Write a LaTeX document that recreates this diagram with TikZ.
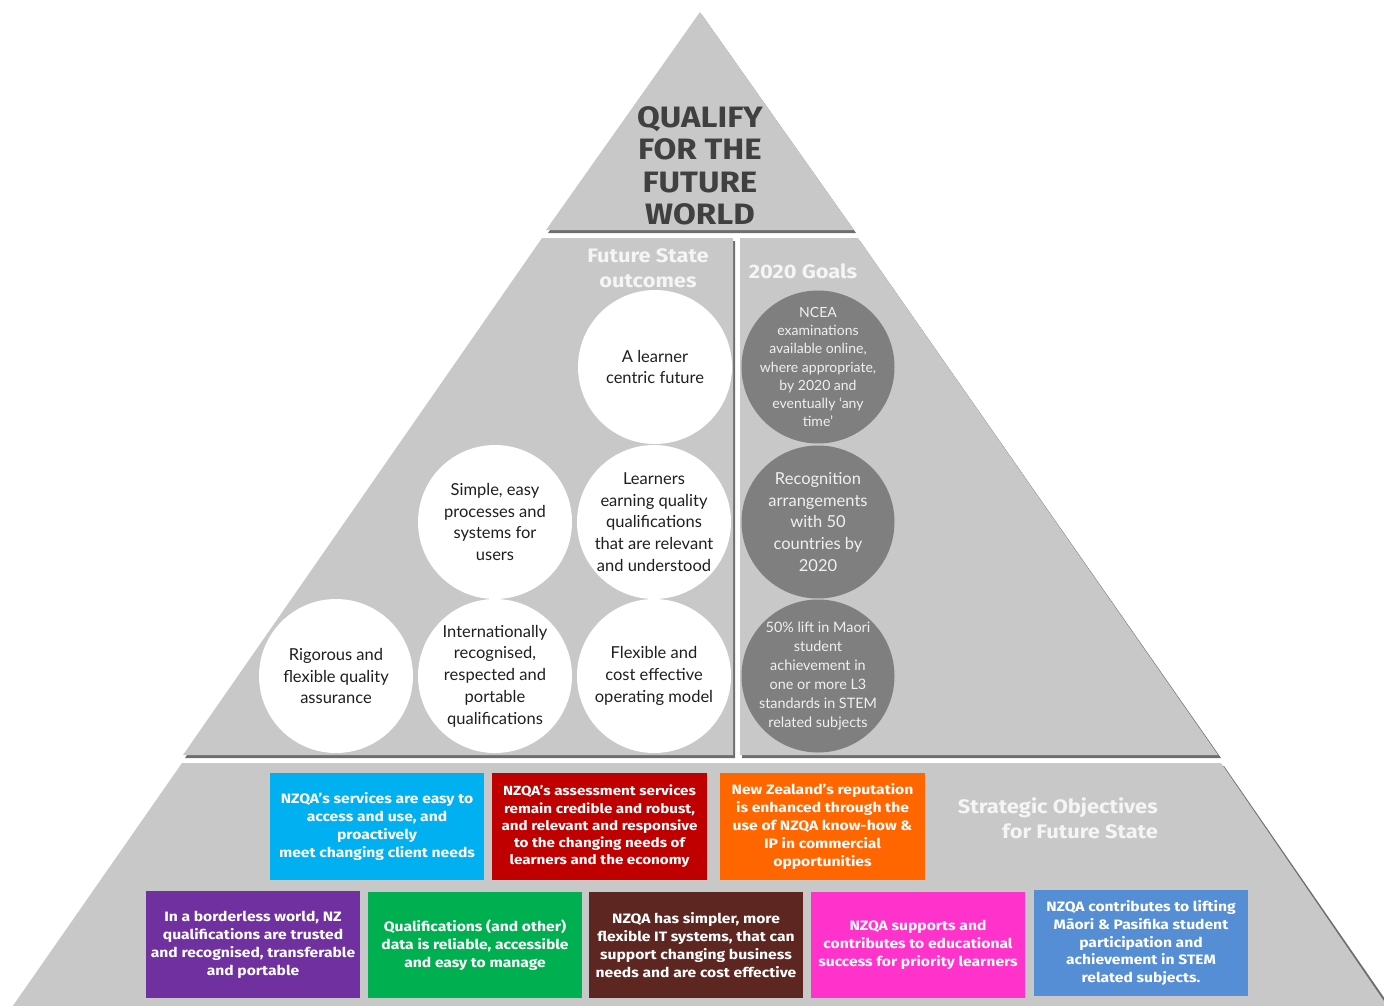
\documentclass[tikz,border=0pt]{standalone}
\usepackage{fontspec}
\setmainfont{Lato}
\newfontfamily\boxfont{Fira Sans}[FakeStretch=1.15]
\newfontfamily\heavywide{Fira Sans}[FakeStretch=1.12]
\definecolor{pyr}{RGB}{200,200,200}
\definecolor{pyrshadow}{RGB}{110,110,110}
\definecolor{dgray}{RGB}{127,127,127}
\definecolor{titlegray}{RGB}{64,64,64}
\definecolor{cyanc}{RGB}{0,176,240}
\definecolor{redc}{RGB}{192,0,0}
\definecolor{orangec}{RGB}{255,102,0}
\definecolor{purplec}{RGB}{112,48,160}
\definecolor{greenc}{RGB}{0,176,80}
\definecolor{brownc}{RGB}{94,38,32}
\definecolor{magentac}{RGB}{255,51,204}
\definecolor{bluec}{RGB}{85,142,213}
\tikzset{
  tier/.style={fill=pyr, draw=none},
  tiershadow/.style={fill=pyrshadow, draw=none},
  wcirc/.style={circle, fill=white, minimum size=154pt, inner sep=0pt},
  dcirc/.style={circle, fill=dgray, minimum size=153pt, inner sep=0pt},
  wtext/.style={align=center, inner sep=0pt, text=black!88, font=\fontsize{16.5}{21.8}\selectfont},
  dtext/.style={align=center, inner sep=0pt, text=white!94!black},
  objbox/.style={fill=#1, inner sep=0pt, text=white, align=center,
     minimum width=214pt, minimum height=107pt, font=\boxfont\bfseries\fontsize{13.6}{17.9}\selectfont},
  headtext/.style={text=white!96!black, inner sep=0pt, font=\heavywide\bfseries\fontsize{19.5}{25}\selectfont}
}
\begin{document}
\begin{tikzpicture}[x=1pt,y=-1pt]
\useasboundingbox (0,0) rectangle (1384,1006);
\clip (0,0) rectangle (1384,1006);
% ---- shadows
\fill[tiershadow] ([shift={(2,3)}]700,12) -- ([shift={(2,3)}]854,230) -- ([shift={(2,3)}]546,230) -- cycle;
\fill[tiershadow] (544,241) -- (735,241) -- (735,758) -- (185,758) -- cycle;
\fill[tiershadow] (742,241) -- (860,241) -- (1221,758) -- (742,758) -- cycle;
\fill[tiershadow] (184,766) -- (1224,766) -- (1394,1012) -- (12,1012) -- cycle;
% ---- tiers
\fill[tier] (700,12) -- (854,230) -- (546,230) -- cycle;
\fill[tier] (542,238) -- (733,238) -- (733,755) -- (183,755) -- cycle;
\fill[tier] (740,238) -- (858,238) -- (1218,755) -- (740,755) -- cycle;
\fill[tier] (182,763) -- (1221,763) -- (1390,1010) -- (10,1010) -- cycle;

% ---- title
\node[align=center, inner sep=0pt, text=titlegray, font=\heavywide\bfseries\fontsize{29.5}{32.5}\selectfont] (title) at (700,166) {QUALIFY\\FOR THE\\FUTURE\\WORLD};

% ---- headings
\node[headtext, align=center] (fso) at (648,268) {Future State\\outcomes};
\node[headtext] (goals) at (803,271) {2020 Goals};
\node[headtext, align=right, anchor=east] (sofs) at (1158,818) {Strategic Objectives\\for Future State};

% ---- white circles (future state outcomes)
\node[wcirc] (c1) at (655,367) {};
\node[wtext] (t1) at (c1) {A learner\\centric future};
\node[wcirc] (c2) at (654,522) {};
\node[wtext] (t2) at (c2) {Learners\\earning quality\\qualifications\\that are relevant\\and understood};
\node[wcirc] (c3) at (495,522) {};
\node[wtext] (t3) at (c3) {Simple, easy\\processes and\\systems for\\users};
\node[wcirc] (c4) at (336,676) {};
\node[wtext] (t4) at (c4) {Rigorous and\\flexible quality\\assurance};
\node[wcirc] (c5) at (495,676) {};
\node[wtext] (t5) at (c5) {Internationally\\recognised,\\respected and\\portable\\qualifications};
\node[wcirc] (c6) at (654,676) {};
\node[wtext] (t6) at (c6) {Flexible and\\cost effective\\operating model};

% ---- dark circles (2020 goals)
\node[dcirc] (g1) at (818,367) {};
\node[dtext, font=\fontsize{14}{18.1}\selectfont] (gt1) at (g1) {NCEA\\examinations\\available online,\\where appropriate,\\by 2020 and\\eventually ‘any\\time’};
\node[dcirc] (g2) at (818,522) {};
\node[dtext, font=\fontsize{16.5}{21.6}\selectfont] (gt2) at (g2) {Recognition\\arrangements\\with 50\\countries by\\2020};
\node[dcirc] (g3) at (818,676) {};
\node[dtext, font=\fontsize{14.4}{19}\selectfont] (gt3) at (g3) {50\% lift in Maori\\student\\achievement in\\one or more L3\\standards in STEM\\related subjects};

% ---- strategic objective boxes, top row
\node[objbox=cyanc, minimum width=214pt] (b1) at (377,826.5) {NZQA’s services are easy to\\access and use, and\\proactively\\meet changing client needs};
\node[objbox=redc, minimum width=215pt, font=\boxfont\bfseries\fontsize{13.2}{17.3}\selectfont] (b2) at (599.5,826.5) {NZQA’s assessment services\\remain credible and robust,\\and relevant and responsive\\to the changing needs of\\learners and the economy};
\node[objbox=orangec, minimum width=205pt] (b3) at (822.5,826.5) {New Zealand’s reputation\\is enhanced through the\\use of NZQA know-how \&\\IP in commercial\\opportunities};

% ---- strategic objective boxes, bottom row
\node[objbox=purplec] (b4) at (253,944.5) {In a borderless world, NZ\\qualifications are trusted\\and recognised, transferable\\and portable};
\node[objbox=greenc, minimum height=106pt] (b5) at (475,945) {Qualifications (and other)\\data is reliable, accessible\\and easy to manage};
\node[objbox=brownc, minimum height=106pt] (b6) at (696,945) {NZQA has simpler, more\\flexible IT systems, that can\\support changing business\\needs and are cost effective};
\node[objbox=magentac, minimum height=106pt] (b7) at (918,945) {NZQA supports and\\contributes to educational\\success for priority learners};
\node[objbox=bluec, minimum height=106pt] (b8) at (1141,943) {NZQA contributes to lifting\\Māori \& Pasifika student\\participation and\\achievement in STEM\\related subjects.};
\end{tikzpicture}
\end{document}
